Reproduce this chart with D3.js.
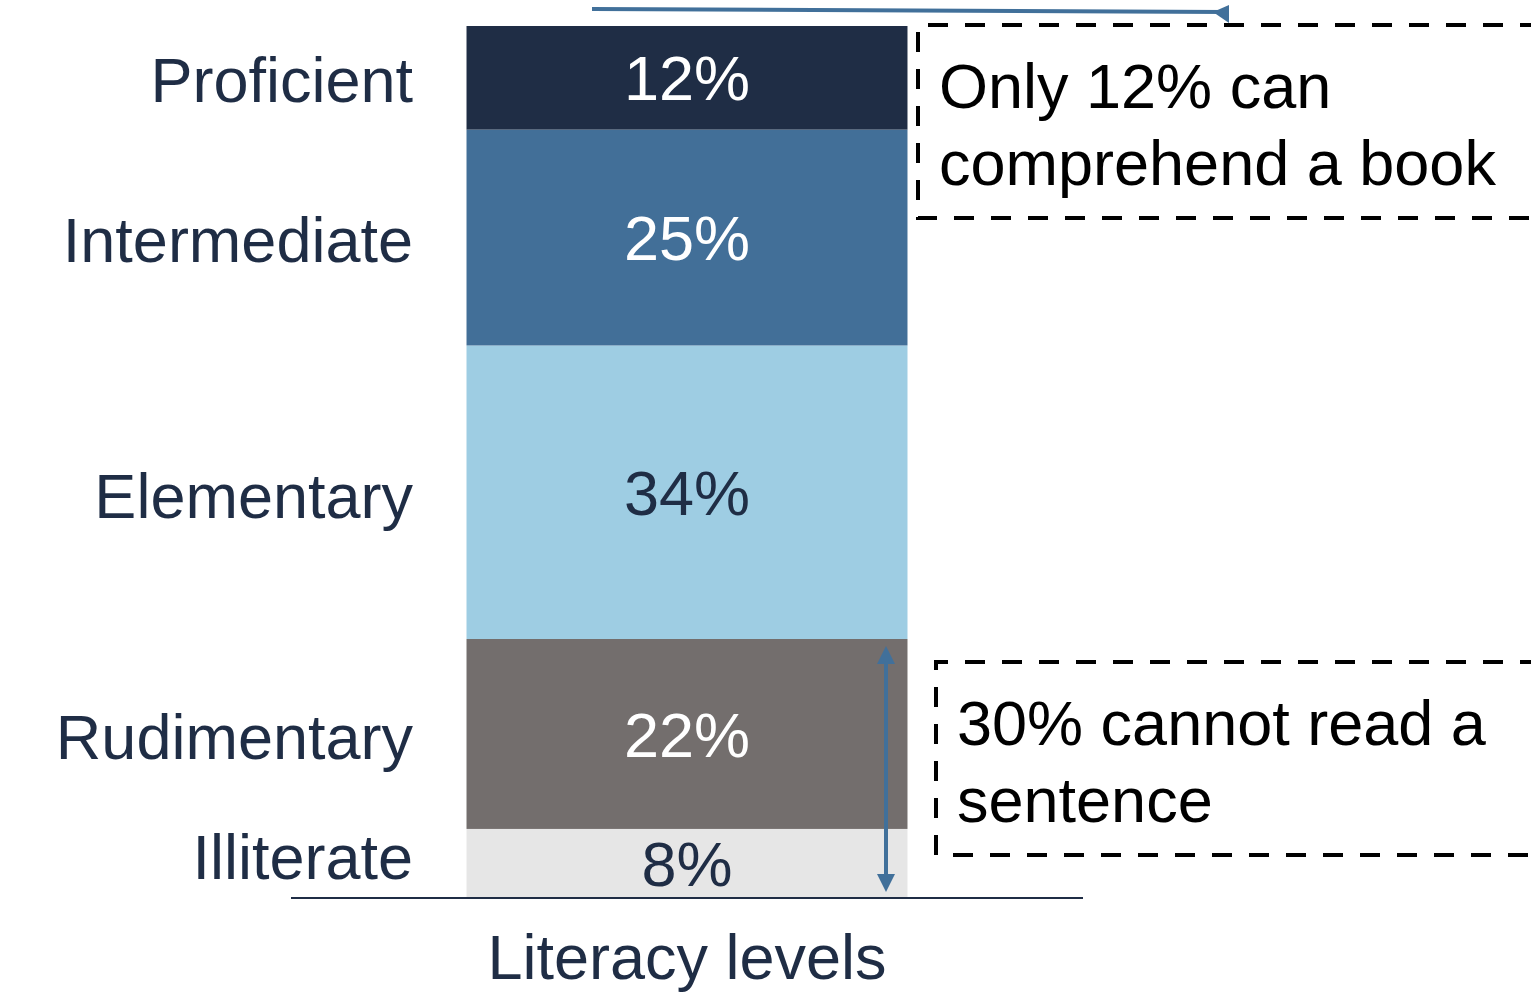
<!DOCTYPE html>
<html>
<head>
<meta charset="utf-8">
<script src="https://cdn.jsdelivr.net/npm/d3@7"></script>
<style>
html,body{margin:0;padding:0;background:#fff;}
svg{display:block;}
text{font-family:"Liberation Sans", Arial, sans-serif;}
</style>
</head>
<body>
<svg id="chart" width="1531" height="994"></svg>
<script>
// Data (bottom to top)
const categories = ["Illiterate", "Rudimentary", "Elementary", "Intermediate", "Proficient"];
const values = [8, 22, 34, 25, 12];
const segmentColors = ["#e6e6e6", "#736e6d", "#9ecde3", "#426f98", "#1f2d45"];
const valueTextColors = ["#1f2d45", "#ffffff", "#1f2d45", "#ffffff", "#ffffff"];
const labelOffsets = [-7, 2, 3, 2, 2];
const xCategory = ["Literacy levels"];
const note1Lines = ["Only 12% can", "comprehend a book"];
const note2Lines = ["30% cannot read a", "sentence"];

const svg = d3.select("#chart");
const total = d3.sum(values);

const y = d3.scaleLinear().domain([0, total]).range([898, 26]);
const x = d3.scaleBand().domain(xCategory).range([291, 1083]).paddingInner(0).paddingOuter(0.398);

let cum = 0;
const stacked = values.map((v, i) => {
  const d = {cat: categories[i], v, y0: cum, y1: cum + v, i};
  cum += v;
  return d;
});

const bx = x(xCategory[0]);
const bw = x.bandwidth();

svg.selectAll("rect.seg").data(stacked).enter().append("rect")
  .attr("class", "seg")
  .attr("x", bx)
  .attr("width", bw)
  .attr("y", d => y(d.y1))
  .attr("height", d => y(d.y0) - y(d.y1))
  .attr("fill", (d, i) => segmentColors[i]);

svg.selectAll("text.val").data(stacked).enter().append("text")
  .attr("class", "val")
  .attr("x", bx + bw / 2)
  .attr("y", d => (y(d.y0) + y(d.y1)) / 2)
  .attr("dy", "0.36em")
  .attr("text-anchor", "middle")
  .attr("font-size", 63)
  .attr("fill", (d, i) => valueTextColors[i])
  .text(d => d.v + "%");

svg.selectAll("text.cat").data(stacked).enter().append("text")
  .attr("class", "cat")
  .attr("x", 413)
  .attr("y", (d, i) => (y(d.y0) + y(d.y1)) / 2 + labelOffsets[i])
  .attr("dy", "0.36em")
  .attr("text-anchor", "end")
  .attr("font-size", 63)
  .attr("fill", "#1f2d45")
  .text(d => d.cat);

// baseline axis
svg.append("line")
  .attr("x1", 291).attr("x2", 1083)
  .attr("y1", y(0)).attr("y2", y(0))
  .attr("stroke", "#1f2d45").attr("stroke-width", 2);

svg.append("text")
  .attr("x", bx + bw / 2)
  .attr("y", 979)
  .attr("text-anchor", "middle")
  .attr("font-size", 63)
  .attr("fill", "#1f2d45")
  .text(xCategory[0]);

// top arrow
const arrowColor = "#41709a";
svg.append("line")
  .attr("x1", 592).attr("y1", 9)
  .attr("x2", 1226).attr("y2", 12)
  .attr("stroke", arrowColor).attr("stroke-width", 4);
svg.append("polygon")
  .attr("points", "1229,5 1229,23 1213,12")
  .attr("fill", arrowColor);

// double arrow over bottom 30%
const ax = 886;
const yTop = y(values[0] + values[1]) + 7;
const yBot = y(0) - 6;
svg.append("line")
  .attr("x1", ax).attr("x2", ax)
  .attr("y1", yTop + 14).attr("y2", yBot - 14)
  .attr("stroke", arrowColor).attr("stroke-width", 4);
svg.append("polygon")
  .attr("points", `${ax},${yTop} ${ax - 9},${yTop + 18} ${ax + 9},${yTop + 18}`)
  .attr("fill", arrowColor);
svg.append("polygon")
  .attr("points", `${ax},${yBot} ${ax - 9},${yBot - 18} ${ax + 9},${yBot - 18}`)
  .attr("fill", arrowColor);

// dashed annotation boxes
function noteBox(x0, y0, y1, lines, tx, baseline0) {
  svg.append("path")
    .attr("d", `M1540,${y0} L${x0},${y0} L${x0},${y1} L1540,${y1}`)
    .attr("fill", "none")
    .attr("stroke", "#000")
    .attr("stroke-width", 4)
    .attr("stroke-dasharray", "20,17");
  svg.append("g").selectAll("text").data(lines).enter().append("text")
    .attr("x", tx)
    .attr("y", (d, i) => baseline0 + i * 77)
    .attr("font-size", 63)
    .attr("fill", "#000")
    .text(d => d);
}
noteBox(918, 25, 218, note1Lines, 939, 108);
noteBox(936, 662, 855, note2Lines, 957, 745);
</script>
</body>
</html>
